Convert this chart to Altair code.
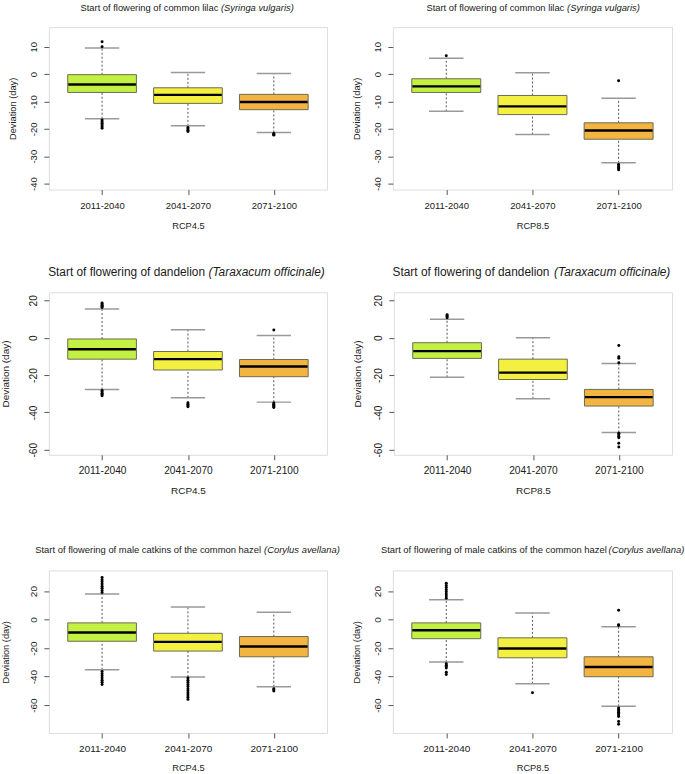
import altair as alt
import pandas as pd

FONT = "Liberation Sans"

periods = ["2011-2040", "2041-2070", "2071-2100"]
box_colors = ["#c2f043", "#f3f042", "#f4b442"]

title_plain = [
    "Start of flowering of common lilac",
    "Start of flowering of common lilac",
    "Start of flowering of dandelion",
    "Start of flowering of dandelion",
    "Start of flowering of male catkins of the common hazel",
    "Start of flowering of male catkins of the common hazel",
]
title_italic = [
    "(Syringa vulgaris)", "(Syringa vulgaris)",
    "(Taraxacum officinale)", "(Taraxacum officinale)",
    "(Corylus avellana)", "(Corylus avellana)",
]
scenario = ["RCP4.5", "RCP8.5", "RCP4.5", "RCP8.5", "RCP4.5", "RCP8.5"]

# box statistics per panel (three periods each)
lo_whisker = [
    [-16.3, -18.9, -21.3],
    [-13.6, -22.1, -32.4],
    [-27.7, -32.2, -34.5],
    [-21.2, -32.7, -50.7],
    [-35.2, -40.3, -47.1],
    [-29.8, -45.0, -60.9],
]
q1_vals = [
    [-6.7, -10.7, -13.0],
    [-6.7, -14.8, -23.8],
    [-11.5, -17.3, -20.9],
    [-11.1, -22.4, -36.6],
    [-15.2, -22.1, -26.1],
    [-13.4, -26.8, -40.1],
]
median_vals = [
    [-3.8, -7.6, -10.2],
    [-4.5, -11.8, -20.6],
    [-6.2, -11.5, -15.4],
    [-7.2, -18.7, -31.8],
    [-9.1, -15.6, -18.9],
    [-7.5, -20.3, -33.3],
]
q3_vals = [
    [-0.2, -5.0, -7.4],
    [-1.7, -7.8, -17.8],
    [-0.7, -7.4, -11.7],
    [-2.7, -11.5, -27.7],
    [-2.3, -9.6, -11.9],
    [-2.3, -12.8, -26.1],
]
hi_whisker = [
    [9.5, 0.6, 0.2],
    [5.8, 0.5, -8.8],
    [15.4, 4.2, 1.2],
    [9.9, 0.0, -13.8],
    [18.0, 8.9, 5.1],
    [13.9, 4.7, -5.1],
]
outliers = [
    [[11.8, 10.0, -16.8, -17.4, -18.0, -18.6, -19.2, -19.8],
     [-19.5, -20.0, -20.5, -21.0],
     [-21.7, -22.0, -22.3]],
    [[6.7],
     [],
     [-2.4, -33.0, -33.5, -34.0, -34.5, -35.0]],
    [[16.2, 16.8, 17.4, 18.0, 18.6, -28.3, -29.0, -29.7, -30.4, -31.1],
     [-34.8, -35.6, -36.4, -37.0],
     [4.1, -35.0, -35.6, -36.2, -36.8, -37.4]],
    [[10.6, 11.2, 11.8, 12.3],
     [],
     [-4.2, -10.2, -11.0, -13.4, -51.2, -52.0, -52.8, -53.6, -56.5, -58.5]],
    [[19.0, 20.5, 22.0, 23.5, 25.0, 26.5, 28.0, 29.5,
      -36.5, -38.0, -39.5, -41.0, -42.5, -44.0, -45.5],
     [-41.0, -42.5, -44.0, -45.5, -47.0, -48.5, -50.0, -51.5, -53.0, -54.5, -56.0],
     [-48.5, -49.3, -50.1]],
    [[15.0, 16.5, 18.0, 19.5, 21.0, 22.5, 24.0, 25.5,
      -31.0, -32.0, -33.0, -34.0, -37.0, -38.5],
     [-51.3],
     [6.5, -3.6, -4.2, -62.0, -63.0, -64.0, -65.0, -66.0, -67.0, -68.0, -71.5, -73.5]],
]

y_domains = [[-42.2, 17.2], [-42.2, 17.2],
             [-62.7, 24.3], [-62.7, 24.3],
             [-79.6, 34.5], [-79.6, 34.5]]
y_ticks = [[10, 0, -10, -20, -30, -40], [10, 0, -10, -20, -30, -40],
           [20, 0, -20, -40, -60], [20, 0, -20, -40, -60],
           [20, 0, -20, -40, -60], [20, 0, -20, -40, -60]]

# layout / style per panel
widths = [279, 280, 279, 279, 279, 280]
HEIGHT = 163
title_fs = [9.4, 9.4, 11.9, 11.9, 9.45, 9.45]
title_x = [31.7, 33.7, -0.7, -1.3, -13.7, -12.0]
italic_x = [172.6, 174.7, 160.1, 160.7, 215.8, 216.3]
title_y = [-16, -16, -16.5, -16.5, -17.5, -17.5]
label_fs = [9.5, 9.5, 10.2, 10.2, 10.0, 10.0]
axtitle_fs = [9.3, 9.3, 10.0, 10.0, 9.3, 9.3]
x_label_pad = [6, 6, 6, 6, 5.3, 5.3]
x_title_pad = [11.8, 11.8, 9.7, 9.7, 10.5, 10.5]
y_left_extent = [41, 41, 48, 41, 48, 41]
x_title_extra = [0, 0, 15.5, 15.5, 0, 0]

TXT = "#1a1a1a"


def make_panel(i):
    stats = pd.DataFrame({
        "period": periods,
        "lo": lo_whisker[i],
        "q1": q1_vals[i],
        "med": median_vals[i],
        "q3": q3_vals[i],
        "hi": hi_whisker[i],
    })
    out = pd.DataFrame({
        "period": [p for p, vals in zip(periods, outliers[i]) for _ in vals],
        "value": [v for vals in outliers[i] for v in vals],
    })
    W = widths[i]
    step = W / 3.24
    box_w = 0.8 * step
    cap_w = 0.4 * step

    y_ext = 5 + 5 + label_fs[i]
    x_ext = 5 + x_label_pad[i] + label_fs[i]
    x_title = [scenario[i], " "] if x_title_extra[i] else scenario[i]
    xaxis_kw = dict(
        title=x_title, labelAngle=0, tickSize=5, labelPadding=x_label_pad[i],
        titlePadding=x_title_pad[i], minExtent=x_ext, maxExtent=x_ext,
        domain=False, grid=False, labelFontSize=label_fs[i], titleFontSize=axtitle_fs[i],
        labelFont=FONT, titleFont=FONT, labelColor=TXT, titleColor=TXT,
        tickColor="#555555", titleFontWeight="normal", labelOverlap=False,
    )
    if x_title_extra[i]:
        xaxis_kw["titleLineHeight"] = x_title_extra[i]
    xaxis = alt.Axis(**xaxis_kw)
    yaxis = alt.Axis(
        title="Deviation (day)", values=y_ticks[i], labelAngle=270, labelAlign="center",
        labelBaseline="bottom", tickSize=5, labelPadding=5,
        minExtent=y_ext, maxExtent=y_ext,
        titlePadding=y_left_extent[i] - y_ext - axtitle_fs[i],
        domain=False, grid=False, labelFontSize=label_fs[i], titleFontSize=axtitle_fs[i],
        labelFont=FONT, titleFont=FONT, labelColor=TXT, titleColor=TXT,
        tickColor="#555555", titleFontWeight="normal", labelOverlap=False,
        labelExpr="datum.value < 0 ? '-' + abs(datum.value) : '' + datum.value",
    )
    xs = alt.Scale(type="point", domain=periods, padding=0.62)
    ys = alt.Scale(domain=y_domains[i], nice=False, zero=False)
    X = alt.X("period:N", scale=xs, axis=xaxis, sort=periods)

    def Y(field):
        return alt.Y(field, scale=ys, axis=yaxis)

    base = alt.Chart(stats)
    whisk_up = base.mark_rule(strokeDash=[2, 2], color="#555555", strokeWidth=1).encode(
        x=X, y=Y("q3:Q"), y2="hi:Q")
    whisk_dn = base.mark_rule(strokeDash=[2, 2], color="#555555", strokeWidth=1).encode(
        x=X, y=Y("lo:Q"), y2="q1:Q")
    caps = base.transform_fold(["lo", "hi"], as_=["k", "v"]).mark_tick(
        size=cap_w, thickness=1.5, color="#999999", orient="horizontal", opacity=1
    ).encode(x=X, y=Y("v:Q"))
    box = base.mark_bar(size=box_w, stroke="#6b6b50", strokeWidth=1, opacity=1).encode(
        x=X, y=Y("q1:Q"), y2="q3:Q",
        color=alt.Color("period:N", scale=alt.Scale(domain=periods, range=box_colors), legend=None),
    )
    med = base.mark_tick(size=box_w - 1, thickness=2.4, color="black", orient="horizontal",
                         opacity=1).encode(x=X, y=Y("med:Q"))
    pts = alt.Chart(out).mark_circle(size=9, color="black", opacity=1).encode(
        x=X, y=Y("value:Q"))
    t1 = alt.Chart(pd.DataFrame({"t": [title_plain[i]]})).mark_text(
        align="left", baseline="alphabetic", fontSize=title_fs[i], font=FONT, color=TXT
    ).encode(text="t:N", x=alt.value(title_x[i]), y=alt.value(title_y[i]))
    t2 = alt.Chart(pd.DataFrame({"t": [title_italic[i]]})).mark_text(
        align="left", baseline="alphabetic", fontSize=title_fs[i], font=FONT, color=TXT,
        fontStyle="italic"
    ).encode(text="t:N", x=alt.value(italic_x[i]), y=alt.value(title_y[i]))
    return alt.layer(whisk_up, whisk_dn, caps, box, med, pts, t1, t2).properties(
        width=W, height=HEIGHT)


panels = [make_panel(i) for i in range(6)]

row1 = alt.hconcat(panels[0], panels[1], spacing=23)
row2 = alt.hconcat(panels[2], panels[3], spacing=24)
row3 = alt.hconcat(panels[4], panels[5], spacing=10)

chart = alt.vconcat(row1, row2, row3, spacing=33).properties(
    padding={"left": 0, "top": 1, "right": 0, "bottom": 0},
    background="white",
).configure_view(
    stroke="#8f8f8f", strokeWidth=1.2
).configure(font=FONT)

chart.save("out.html", embed_options={"renderer": "svg", "actions": False})
